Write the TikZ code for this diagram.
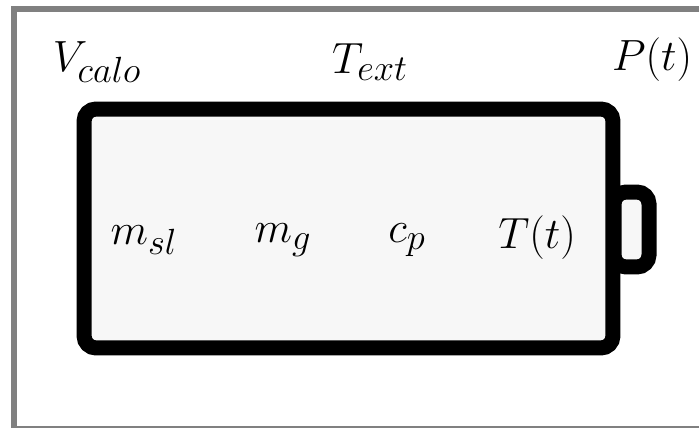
\documentclass[tikz,border=0pt]{standalone}
\begin{document}
\begin{tikzpicture}[x=0.02cm, y=-0.02cm,
  every node/.style={font=\fontsize{29}{33}\selectfont},
  cell/.style={draw, line width=0.3cm, rounded corners=0.24cm, fill=gray!6, inner sep=0pt},
  lbl/.style={inner sep=0pt}]
\useasboundingbox (0,0) rectangle (699,428);
% frame
\draw[gray, line width=0.12cm] (720,9.5) -- (14,9.5) -- (14,428);
\draw[gray, line width=0.04cm] (14,427) -- (699,427);
% battery
\node[cell, minimum width=0.7cm, minimum height=1.5cm] (tip) at (631.5,229.5) {};
\node[cell, minimum width=10.58cm, minimum height=4.78cm] (body) at (348.5,228.5) {};
% quantities
\node[lbl] (V) at (97,62) {$V_{calo}$};
\node[lbl] (Text) at (370,62) {$T_{ext}$};
\node[lbl] (P) at (652,60) {$P(t)$};
\node[lbl] (msl) at (144,240) {$m_{sl}$};
\node[lbl] (mg) at (283,240) {$m_g$};
\node[lbl] (cp) at (407,240) {$c_p$};
\node[lbl] (T) at (537,238) {$T(t)$};
\end{tikzpicture}
\end{document}
